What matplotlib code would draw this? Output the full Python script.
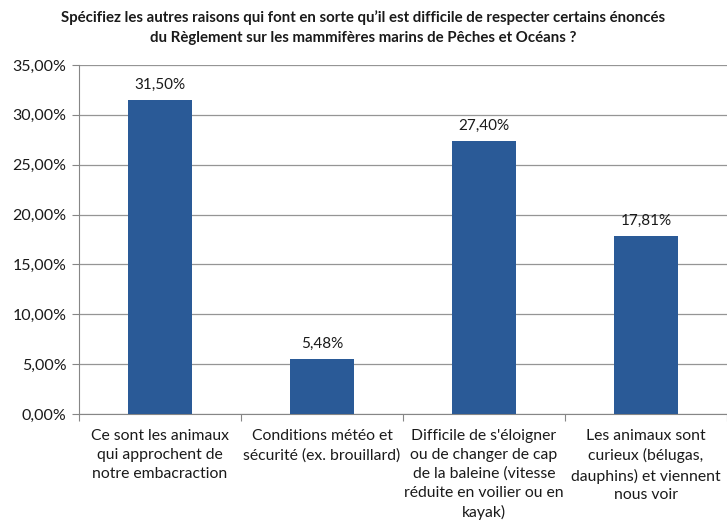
import matplotlib
matplotlib.use("Agg")
import matplotlib.pyplot as plt
from matplotlib.ticker import FuncFormatter, MultipleLocator

# données
categories = [
    "Ce sont les animaux\nqui approchent de\nnotre embacraction",
    "Conditions météo et\nsécurité (ex. brouillard)",
    "Difficile de s'éloigner\nou de changer de cap\nde la baleine (vitesse\nréduite en voilier ou en\nkayak)",
    "Les animaux sont\ncurieux (bélugas,\ndauphins) et viennent\nnous voir",
]
valeurs = [31.50, 5.48, 27.40, 17.81]
titre = ("Spécifiez les autres raisons qui font en sorte qu’il est difficile de respecter certains énoncés\n"
         "du Règlement sur les mammifères marins de Pêches et Océans ?")

plt.rcParams['font.family'] = ['Lato', 'DejaVu Sans']

fig = plt.figure(figsize=(7.27, 5.23), dpi=100)
ax = fig.add_axes([79/727, 1 - 414/523, 1 - 79/727, (414 - 65)/523])

x = range(len(valeurs))
bars = ax.bar(x, valeurs, width=0.40, color='#2A5A97', zorder=3)

for b, v in zip(bars, valeurs):
    ax.annotate(f"{v:.2f}%".replace('.', ','), (b.get_x() + b.get_width()/2, v),
                xytext=(0, 6), textcoords='offset points',
                ha='center', va='bottom', fontsize=11, color='#1a1a1a')

ax.set_ylim(0, 35)
ax.set_xlim(-0.5, len(valeurs) - 0.5)
ax.yaxis.set_major_locator(MultipleLocator(5))
ax.yaxis.set_major_formatter(FuncFormatter(lambda y, _: f"{y:.2f}%".replace('.', ',')))
ax.grid(axis='y', color='#959595', linewidth=0.9, zorder=0)

for s in ['top', 'right']:
    ax.spines[s].set_visible(False)
for s in ['left', 'bottom']:
    ax.spines[s].set_color('#868686')

# étiquettes de catégories entre les graduations
ax.set_xticks([i - 0.5 for i in range(len(valeurs) + 1)])
ax.set_xticklabels([])
ax.set_xticks(list(x), minor=True)
ax.set_xticklabels(categories, minor=True, fontsize=11.3, color='#1a1a1a', linespacing=1.42, va='top')
ax.tick_params(axis='x', which='minor', length=0, pad=11)
ax.tick_params(axis='x', which='major', length=5, color='#868686')
ax.tick_params(axis='y', length=5, color='#868686', labelsize=11.5, labelcolor='#1a1a1a', pad=4)

fig.text(0.5, 1 - 10/523, titre, ha='center', va='top', fontsize=10.8,
         fontweight='bold', linespacing=1.6, color='#1a1a1a')

fig.savefig("out.png", dpi=100)
